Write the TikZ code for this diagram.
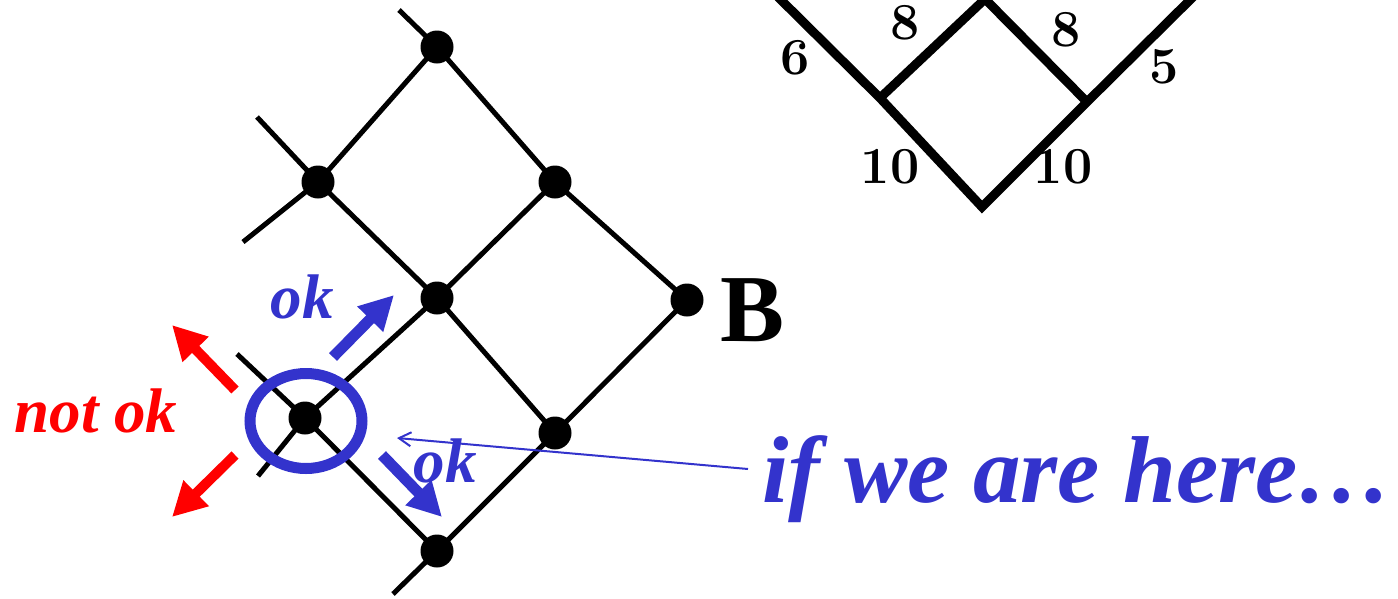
\documentclass[tikz,border=0pt]{standalone}
\usepackage{fontspec}
\usetikzlibrary{arrows.meta,shapes.geometric}
\newfontfamily\tnr{Liberation Serif}
\definecolor{myblue}{HTML}{3333CC}
\definecolor{myred}{HTML}{FF0000}
\begin{document}
\begin{tikzpicture}[x=1pt,y=-1pt,
  dot/.style={circle,fill=black,inner sep=0pt,minimum size=33pt},
  lat/.style={line width=5pt},
  heavy/.style={line width=9pt,line join=miter},
  bigarrow/.style={line width=11pt,-{Triangle[length=34pt,width=34pt]}},
  thinarrow/.style={line width=2pt,myblue,-{Straight Barb[length=12pt,width=14pt]}},
  lbl/.style={inner sep=0pt,font=\tnr\bfseries\itshape\fontsize{63}{63}\selectfont},
  num/.style={inner sep=0pt,font=\bfseries\fontsize{52}{52}\selectfont}
]
\useasboundingbox (0,0) rectangle (1398,598);
% lattice coordinates
\coordinate (p1) at (437,47);
\coordinate (p2) at (318,182);
\coordinate (p3) at (555,182);
\coordinate (p4) at (437,298);
\coordinate (p5) at (687,300);
\coordinate (p6) at (305,418);
\coordinate (p7) at (555,433);
\coordinate (p8) at (437,551);
\coordinate (e1) at (399,10);
\coordinate (e2) at (257,117);
\coordinate (e3) at (243,242);
\coordinate (e4) at (237,354);
\coordinate (e5) at (258,476);
\coordinate (e6) at (393,594);
\draw[lat] (e1) -- (p1) -- (p3) -- (p5);
\draw[lat] (e2) -- (p2) -- (p4) -- (p7);
\draw[lat] (p5) -- (p7) -- (p8) -- (e6);
\draw[lat] (p1) -- (p2) -- (e3);
\draw[lat] (p3) -- (p4) -- (p6) -- (e5);
\draw[lat] (e4) -- (p6) -- (p8);
\foreach \p in {1,...,8} \node[dot] (P\p) at (p\p) {};
% B label
\node[inner sep=0pt,font=\tnr\bfseries\fontsize{96}{96}\selectfont] (B) at (753,310) {B};
% circle around current point
\node[ellipse,draw=myblue,line width=11pt,inner sep=0pt,minimum width=112pt,minimum height=95pt] (here) at (306,421) {};
% ok arrows
\coordinate (ok1t) at (333,357); \coordinate (ok1h) at (394,295);
\coordinate (ok2t) at (382,455); \coordinate (ok2h) at (442,517);
\draw[bigarrow,myblue] (ok1t) -- (ok1h);
\draw[bigarrow,myblue] (ok2t) -- (ok2h);
% not ok arrows
\coordinate (no1t) at (235,390); \coordinate (no1h) at (172,325);
\coordinate (no2t) at (235,455); \coordinate (no2h) at (172,517);
\draw[bigarrow,myred,line width=10pt] (no1t) -- (no1h);
\draw[bigarrow,myred,line width=10pt] (no2t) -- (no2h);
% labels
\node[lbl,text=myblue] (okA) at (302,297) {ok};
\node[lbl,text=myblue] (okB) at (445,461) {ok};
\node[lbl,text=myred] (notok) at (96,411) {not ok};
\node[inner sep=0pt,anchor=base west,text=myblue,font=\tnr\bfseries\itshape\fontsize{95}{95}\selectfont] (ifhere) at (762,502) {if we are here\ldots};
\coordinate (pt1) at (748,469);
\coordinate (pt2) at (397,438);
\draw[thinarrow] (pt1) -- (pt2);
% right diagram
\coordinate (a) at (778,-3);
\coordinate (L) at (880,98);
\coordinate (T) at (985,-1);
\coordinate (R) at (1087,102);
\coordinate (Bo) at (982,207);
\coordinate (tr) at (1195,-5);
\draw[heavy] (a) -- (L) -- (Bo) -- (R) -- (tr);
\draw[heavy] (L) -- (T) -- (R);
\node[num] (n6) at (795,58) {6};
\node[num] (n8a) at (905,23) {8};
\node[num] (n8b) at (1066,30) {8};
\node[num] (n5) at (1164,67) {5};
\node[num] (n10a) at (890,167) {10};
\node[num] (n10b) at (1063,167) {10};
\end{tikzpicture}
\end{document}
